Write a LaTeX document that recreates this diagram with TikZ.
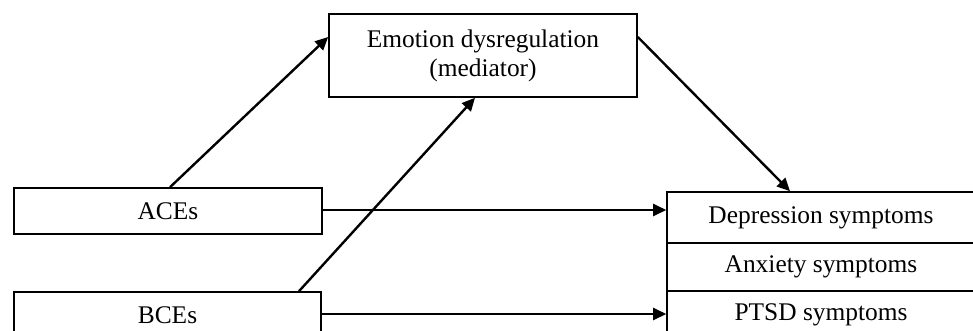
\documentclass[tikz,border=0pt]{standalone}
\usepackage{fontspec}
\setmainfont{Liberation Serif}
\usetikzlibrary{arrows.meta,calc}
\begin{document}
\begin{tikzpicture}[x=1pt,y=-1pt,
  box/.style={draw=black,line width=1.6pt,minimum width=308pt,inner sep=0pt,
    font=\fontsize{25.4pt}{29pt}\selectfont,align=center},
  conn/.style={line width=2.4pt,-{Triangle[length=13pt,width=12pt]}}]
\useasboundingbox (0,0) rectangle (973,331);
\clip (0,0) rectangle (973,331);
\fill[white] (0,0) rectangle (973,331);
\node[box,minimum height=83pt] (med) at (483,55.5) {Emotion dysregulation\\(mediator)};
\node[box,minimum height=46pt] (aces) at (168,211) {ACEs};
\node[box,minimum height=46pt,minimum width=307pt] (bces) at (167.5,315) {BCEs};
\node[box,minimum height=51pt] (dep) at (821,217.5) {Depression symptoms};
\node[box,minimum height=48pt] (anx) at (821,267) {Anxiety symptoms};
\node[box,minimum height=48pt] (ptsd) at (821,315) {PTSD symptoms};
\draw[conn] ([xshift=2pt]aces.north) -- ([yshift=18.5pt]med.west);
\draw[conn] ([xshift=131.5pt]bces.north) -- ([xshift=-8pt]med.south);
\draw[conn] ([yshift=18.5pt]med.east) -- ([xshift=-31pt]dep.north);
\draw[conn] ([yshift=1pt]aces.east) -- ([yshift=1pt]aces.east -| dep.west);
\draw[conn] ([yshift=1pt]bces.east) -- ([yshift=1pt]bces.east -| ptsd.west);
\end{tikzpicture}
\end{document}
